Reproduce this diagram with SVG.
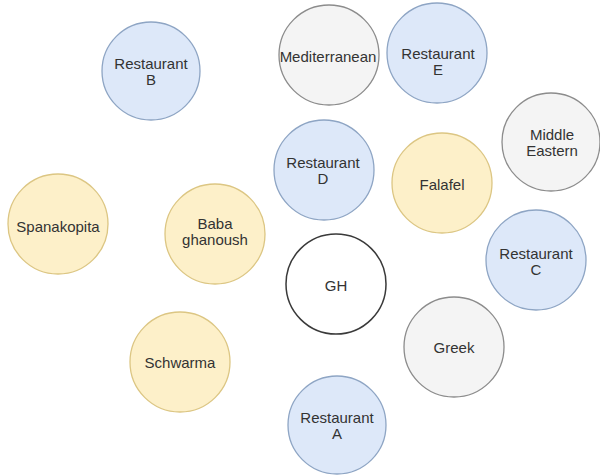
<svg xmlns="http://www.w3.org/2000/svg" width="600" height="475" viewBox="0 0 600 475">
  <style>
    .node circle { stroke-width: 1.3; }
    .blue circle { fill: #dde8f9; stroke: #8ea5c4; }
    .yellow circle { fill: #fdf0c9; stroke: #dcc683; }
    .grey circle { fill: #f4f4f4; stroke: #8c8c8c; }
    .plain circle { fill: #ffffff; stroke: #3a3a3a; stroke-width: 1.5; }
    text { font-family: "Liberation Sans", Arial, Helvetica, sans-serif; font-size: 15px; fill: #333333; text-anchor: middle; dominant-baseline: central; }
  </style>
  <rect width="600" height="475" fill="#ffffff"/>

  <g id="connectors"></g>

  <g id="restaurant-b" class="node blue">
    <circle cx="151" cy="71" r="49"/>
    <text x="151" y="63">Restaurant</text>
    <text x="151" y="79">B</text>
  </g>

  <g id="mediterranean" class="node grey">
    <circle cx="329" cy="55" r="50"/>
    <text x="328" y="56">Mediterranean</text>
  </g>

  <g id="restaurant-e" class="node blue">
    <circle cx="437" cy="53" r="50"/>
    <text x="438" y="53">Restaurant</text>
    <text x="438" y="69">E</text>
  </g>

  <g id="middle-eastern" class="node grey">
    <circle cx="551" cy="142" r="49"/>
    <text x="552" y="134">Middle</text>
    <text x="552" y="150">Eastern</text>
  </g>

  <g id="restaurant-d" class="node blue">
    <circle cx="324" cy="170" r="50"/>
    <text x="323" y="162">Restaurant</text>
    <text x="323" y="178">D</text>
  </g>

  <g id="falafel" class="node yellow">
    <circle cx="442" cy="183" r="50"/>
    <text x="442" y="184">Falafel</text>
  </g>

  <g id="spanakopita" class="node yellow">
    <circle cx="58" cy="224" r="50"/>
    <text x="58" y="226">Spanakopita</text>
  </g>

  <g id="baba-ghanoush" class="node yellow">
    <circle cx="215" cy="234" r="50"/>
    <text x="215" y="223">Baba</text>
    <text x="215" y="239">ghanoush</text>
  </g>

  <g id="gh" class="node plain">
    <circle cx="336" cy="284" r="50"/>
    <text x="336" y="285">GH</text>
  </g>

  <g id="restaurant-c" class="node blue">
    <circle cx="536" cy="260" r="50"/>
    <text x="536" y="253">Restaurant</text>
    <text x="536" y="269">C</text>
  </g>

  <g id="greek" class="node grey">
    <circle cx="454" cy="347" r="50"/>
    <text x="454" y="347">Greek</text>
  </g>

  <g id="schwarma" class="node yellow">
    <circle cx="180" cy="362" r="50"/>
    <text x="180" y="362">Schwarma</text>
  </g>

  <g id="restaurant-a" class="node blue">
    <circle cx="337" cy="425" r="49"/>
    <text x="337" y="417">Restaurant</text>
    <text x="337" y="433">A</text>
  </g>
</svg>
